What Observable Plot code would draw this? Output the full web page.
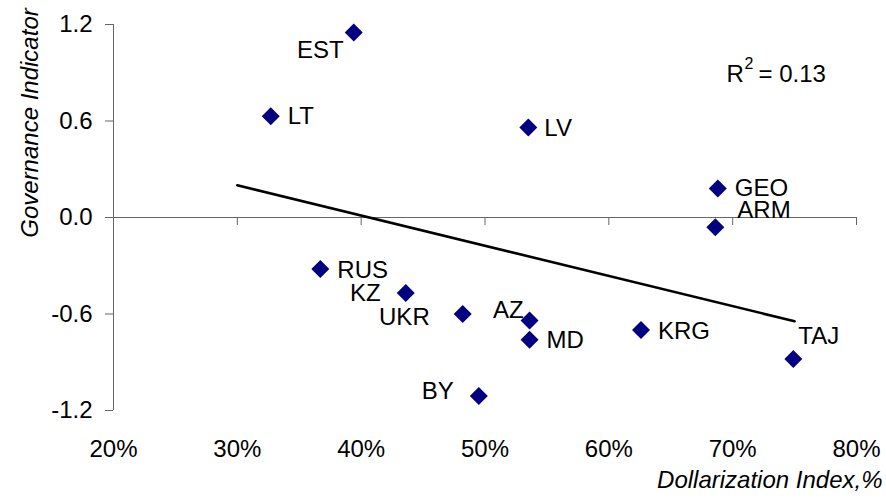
<!DOCTYPE html>
<html>
<head>
<meta charset="utf-8">
<script src="https://cdn.jsdelivr.net/npm/d3@7"></script>
<script src="https://cdn.jsdelivr.net/npm/@observablehq/plot@0.6"></script>
<style>
  html, body { margin: 0; padding: 0; background: #fff; }
  #chart { width: 886px; height: 498px; }
</style>
</head>
<body>
<div id="chart"></div>
<script>
// ---- data ----
const countries = ["EST", "LT", "LV", "GEO", "ARM", "RUS", "KZ", "UKR", "AZ", "MD", "KRG", "TAJ", "BY"];
const dollarization = [39.4, 32.7, 53.5, 68.8, 68.6, 36.7, 43.6, 48.2, 53.6, 53.6, 62.6, 74.9, 49.5];
const governance = [1.15, 0.63, 0.56, 0.18, -0.06, -0.32, -0.47, -0.60, -0.64, -0.76, -0.70, -0.88, -1.11];
const trendX = [30, 75];
const trendY = [0.20, -0.645];
const xTicks = [20, 30, 40, 50, 60, 70, 80];
const yTicks = [-1.2, -0.6, 0, 0.6, 1.2];
const xTitle = "Dollarization Index,%";
const yTitle = "Governance Indicator";
const r2Parts = ["R", "2", "= 0.13"];
const r2Pos = {x: 69.5, y: 0.9};

// ---- label placement (style) ----
const labelPlacement = {
  EST: {anchor: "end", dx: -10, dy: 18},
  LT: {anchor: "start", dx: 17, dy: 0},
  LV: {anchor: "start", dx: 16, dy: 1},
  GEO: {anchor: "start", dx: 17, dy: 0},
  ARM: {anchor: "start", dx: 22, dy: -17},
  RUS: {anchor: "start", dx: 17, dy: 1},
  KZ: {anchor: "end", dx: -25, dy: 0},
  UKR: {anchor: "end", dx: -33, dy: 3},
  AZ: {anchor: "end", dx: -6, dy: -10},
  MD: {anchor: "start", dx: 17, dy: 1},
  KRG: {anchor: "start", dx: 17, dy: 1},
  TAJ: {anchor: "start", dx: 5, dy: -23},
  BY: {anchor: "end", dx: -25, dy: -5}
};

const points = countries.map((c, i) => ({name: c, x: dollarization[i], y: governance[i]}));
const trend = trendX.map((x, i) => ({x, y: trendY[i]}));

const axisColor = "#666";
const font = "'Liberation Sans', Arial, sans-serif";

const labelMarks = points.map(p => {
  const s = labelPlacement[p.name];
  return Plot.text([p], {x: "x", y: "y", text: "name", textAnchor: s.anchor, dx: s.dx, dy: s.dy, fill: "#000"});
});

const r2At = {x: () => r2Pos.x, y: () => r2Pos.y, textAnchor: "start", fill: "#000", lineAnchor: "bottom"};

const chart = Plot.plot({
  width: 886,
  height: 498,
  marginLeft: 113,
  marginRight: 30,
  marginTop: 24,
  marginBottom: 88,
  style: {fontFamily: font, fontSize: "24px", background: "#fff", color: "#000"},
  x: {domain: [20, 80]},
  y: {domain: [-1.2, 1.2]},
  marks: [
    Plot.ruleX([20], {stroke: axisColor}),
    Plot.ruleY([0], {stroke: axisColor}),
    Plot.ruleX(xTicks, {x: d => d, y1: 0, y2: 0, insetBottom: -8, stroke: axisColor}),
    Plot.axisY({ticks: yTicks, tickSize: 8, tickPadding: 13, tickFormat: d => d.toFixed(1), stroke: axisColor, label: null}),
    Plot.axisX({ticks: xTicks, tickSize: 0, tickPadding: 29, tickFormat: d => d + "%", label: null}),
    Plot.line(trend, {x: "x", y: "y", stroke: "#000", strokeWidth: 2.6}),
    Plot.dot(points, {x: "x", y: "y", symbol: "diamond2", r: 8.1, fill: "#000080", stroke: "none"}),
    ...labelMarks,
    Plot.text([r2Parts[0]], {...r2At, dy: 9}),
    Plot.text([r2Parts[1]], {...r2At, dx: 18, dy: -4, fontSize: 16}),
    Plot.text([r2Parts[2]], {...r2At, dx: 32, dy: 9}),
    Plot.text([yTitle], {frameAnchor: "top-left", textAnchor: "middle", rotate: -90, dx: -93, dy: 98.5, fontStyle: "italic", fill: "#000"}),
    Plot.text([xTitle], {frameAnchor: "bottom-right", textAnchor: "end", dx: 26, dy: 77, fontStyle: "italic", fill: "#000"})
  ]
});

document.getElementById("chart").appendChild(chart);
</script>
</body>
</html>
